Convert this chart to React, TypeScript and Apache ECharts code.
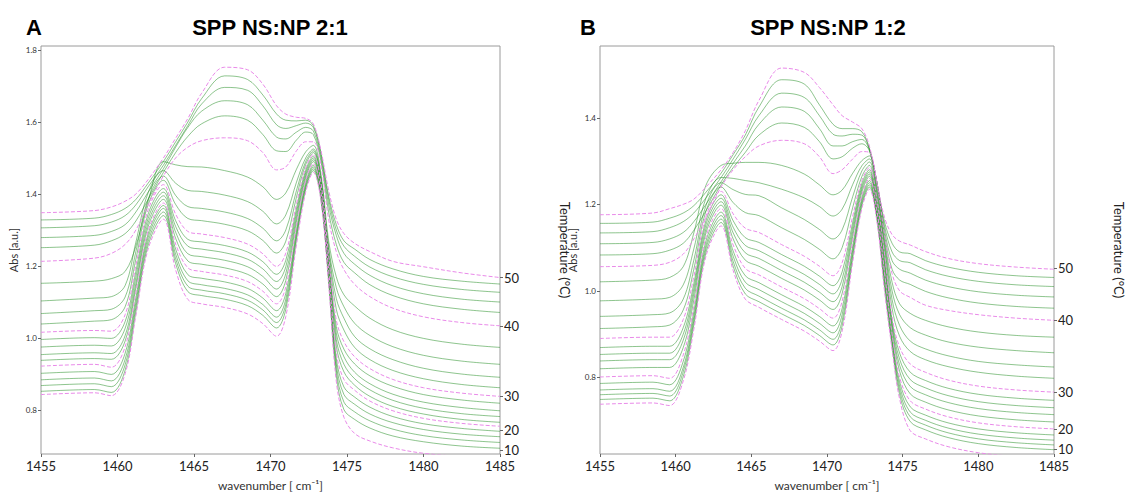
import React, { useEffect, useRef } from "react";
import * as echarts from "echarts";

// Wavenumber sample positions (cm^-1) shared by every spectrum
const WAVENUMBERS = [1455, 1458.5, 1459.6, 1460.5, 1461.2, 1462, 1463, 1463.8, 1464.6, 1465.5, 1467, 1468.5, 1469.5, 1470.4, 1471, 1471.7, 1472.3, 1472.8, 1473.3, 1473.8, 1474.3, 1474.8, 1475.5, 1476.5, 1478, 1480, 1482.5, 1485];

// Temperatures (°C) of the spectra, in order
const TEMPERATURES = [10, 12, 14, 16, 18, 20, 22, 24, 26, 28, 30, 32, 34, 36, 38, 40, 42, 44, 46, 48, 50];

// Panel A: SPP NS:NP 2:1 — absorbance per temperature
const A10 = [0.843, 0.848, 0.840, 0.901, 1.062, 1.247, 1.330, 1.189, 1.107, 1.095, 1.085, 1.067, 1.040, 1.005, 1.060, 1.260, 1.405, 1.460, 1.380, 1.150, 0.880, 0.780, 0.735, 0.714, 0.695, 0.680, 0.671, 0.665];
const A12 = [0.852, 0.857, 0.849, 0.911, 1.072, 1.257, 1.340, 1.207, 1.129, 1.118, 1.108, 1.090, 1.063, 1.028, 1.080, 1.273, 1.413, 1.465, 1.385, 1.158, 0.896, 0.801, 0.774, 0.750, 0.728, 0.712, 0.700, 0.694];
const A14 = [0.868, 0.873, 0.865, 0.926, 1.085, 1.268, 1.350, 1.220, 1.144, 1.133, 1.123, 1.105, 1.078, 1.043, 1.094, 1.282, 1.419, 1.470, 1.390, 1.166, 0.912, 0.822, 0.795, 0.770, 0.747, 0.729, 0.717, 0.710];
const A16 = [0.884, 0.889, 0.881, 0.941, 1.098, 1.279, 1.360, 1.233, 1.159, 1.148, 1.138, 1.120, 1.093, 1.058, 1.108, 1.292, 1.425, 1.475, 1.395, 1.174, 0.928, 0.843, 0.816, 0.789, 0.765, 0.746, 0.733, 0.726];
const A18 = [0.902, 0.907, 0.899, 0.958, 1.112, 1.289, 1.368, 1.247, 1.176, 1.166, 1.156, 1.138, 1.111, 1.076, 1.124, 1.302, 1.432, 1.480, 1.400, 1.181, 0.944, 0.864, 0.836, 0.808, 0.782, 0.762, 0.749, 0.741];
const A20 = [0.922, 0.927, 0.919, 0.976, 1.126, 1.298, 1.375, 1.261, 1.195, 1.185, 1.175, 1.157, 1.130, 1.095, 1.142, 1.313, 1.438, 1.485, 1.405, 1.189, 0.960, 0.885, 0.855, 0.825, 0.798, 0.777, 0.763, 0.755];
const A22 = [0.938, 0.943, 0.941, 0.992, 1.139, 1.309, 1.385, 1.277, 1.214, 1.205, 1.195, 1.177, 1.150, 1.115, 1.160, 1.325, 1.445, 1.490, 1.410, 1.197, 0.978, 0.906, 0.869, 0.838, 0.810, 0.789, 0.774, 0.766];
const A24 = [0.954, 0.959, 0.957, 1.007, 1.152, 1.320, 1.395, 1.294, 1.234, 1.226, 1.216, 1.198, 1.171, 1.136, 1.179, 1.337, 1.452, 1.495, 1.415, 1.205, 0.996, 0.927, 0.887, 0.856, 0.827, 0.805, 0.790, 0.782];
const A26 = [0.975, 0.980, 0.978, 1.027, 1.169, 1.332, 1.405, 1.310, 1.255, 1.247, 1.237, 1.219, 1.192, 1.157, 1.198, 1.349, 1.459, 1.500, 1.420, 1.213, 1.014, 0.948, 0.905, 0.873, 0.844, 0.822, 0.807, 0.798];
const A28 = [0.996, 1.001, 0.999, 1.046, 1.185, 1.344, 1.415, 1.326, 1.274, 1.267, 1.257, 1.239, 1.212, 1.177, 1.216, 1.361, 1.466, 1.505, 1.425, 1.221, 1.032, 0.969, 0.928, 0.895, 0.866, 0.843, 0.828, 0.819];
const A30 = [1.016, 1.021, 1.019, 1.065, 1.201, 1.356, 1.426, 1.344, 1.296, 1.289, 1.279, 1.261, 1.234, 1.199, 1.236, 1.373, 1.473, 1.510, 1.430, 1.229, 1.050, 0.990, 0.948, 0.915, 0.885, 0.862, 0.847, 0.838];
const A32 = [1.039, 1.047, 1.051, 1.087, 1.219, 1.370, 1.438, 1.371, 1.332, 1.326, 1.316, 1.298, 1.271, 1.236, 1.269, 1.392, 1.482, 1.515, 1.435, 1.236, 1.080, 1.022, 0.974, 0.940, 0.910, 0.887, 0.871, 0.862];
const A34 = [1.068, 1.076, 1.080, 1.114, 1.240, 1.385, 1.450, 1.396, 1.365, 1.360, 1.350, 1.332, 1.305, 1.270, 1.300, 1.410, 1.490, 1.520, 1.440, 1.244, 1.110, 1.055, 1.004, 0.970, 0.940, 0.916, 0.900, 0.891];
const A36 = [1.103, 1.111, 1.115, 1.146, 1.266, 1.403, 1.465, 1.430, 1.410, 1.407, 1.397, 1.379, 1.352, 1.317, 1.342, 1.433, 1.500, 1.525, 1.445, 1.252, 1.140, 1.087, 1.041, 1.007, 0.976, 0.952, 0.936, 0.927];
const A38 = [1.152, 1.158, 1.165, 1.185, 1.255, 1.380, 1.490, 1.481, 1.476, 1.475, 1.465, 1.447, 1.420, 1.385, 1.403, 1.469, 1.517, 1.535, 1.455, 1.270, 1.170, 1.120, 1.089, 1.055, 1.023, 0.999, 0.983, 0.974];
const A40 = [1.213, 1.222, 1.235, 1.260, 1.300, 1.370, 1.450, 1.500, 1.530, 1.548, 1.556, 1.548, 1.515, 1.467, 1.475, 1.520, 1.545, 1.545, 1.480, 1.330, 1.240, 1.190, 1.149, 1.115, 1.083, 1.059, 1.043, 1.034];
const A42 = [1.251, 1.258, 1.270, 1.290, 1.325, 1.385, 1.460, 1.515, 1.560, 1.595, 1.617, 1.605, 1.565, 1.520, 1.518, 1.550, 1.572, 1.565, 1.490, 1.350, 1.260, 1.210, 1.181, 1.148, 1.118, 1.095, 1.080, 1.071];
const A44 = [1.279, 1.285, 1.296, 1.315, 1.350, 1.405, 1.470, 1.530, 1.585, 1.630, 1.659, 1.648, 1.605, 1.558, 1.553, 1.572, 1.585, 1.575, 1.500, 1.370, 1.285, 1.235, 1.205, 1.174, 1.145, 1.123, 1.108, 1.100];
const A46 = [1.306, 1.312, 1.322, 1.340, 1.370, 1.420, 1.480, 1.535, 1.590, 1.650, 1.696, 1.688, 1.645, 1.592, 1.582, 1.590, 1.597, 1.585, 1.510, 1.385, 1.300, 1.255, 1.227, 1.197, 1.170, 1.149, 1.135, 1.127];
const A48 = [1.328, 1.333, 1.343, 1.360, 1.385, 1.430, 1.490, 1.545, 1.600, 1.665, 1.728, 1.718, 1.675, 1.622, 1.605, 1.603, 1.605, 1.590, 1.515, 1.395, 1.315, 1.270, 1.247, 1.218, 1.192, 1.171, 1.158, 1.150];
const A50 = [1.348, 1.354, 1.364, 1.380, 1.400, 1.440, 1.500, 1.555, 1.610, 1.680, 1.752, 1.745, 1.705, 1.645, 1.622, 1.613, 1.610, 1.595, 1.520, 1.410, 1.330, 1.290, 1.263, 1.240, 1.213, 1.198, 1.181, 1.168];

// Panel B: SPP NS:NP 1:2 — absorbance per temperature
const B10 = [0.738, 0.741, 0.735, 0.792, 0.911, 1.080, 1.150, 1.047, 0.981, 0.962, 0.934, 0.907, 0.884, 0.862, 0.907, 1.067, 1.190, 1.235, 1.160, 1.000, 0.865, 0.750, 0.677, 0.658, 0.640, 0.626, 0.617, 0.612];
const B12 = [0.749, 0.752, 0.746, 0.802, 0.921, 1.088, 1.158, 1.057, 0.993, 0.975, 0.947, 0.920, 0.897, 0.875, 0.919, 1.076, 1.196, 1.240, 1.165, 1.009, 0.872, 0.760, 0.698, 0.679, 0.661, 0.647, 0.638, 0.633];
const B14 = [0.760, 0.763, 0.757, 0.813, 0.931, 1.097, 1.166, 1.068, 1.006, 0.988, 0.960, 0.933, 0.910, 0.888, 0.931, 1.084, 1.202, 1.245, 1.170, 1.017, 0.879, 0.770, 0.709, 0.690, 0.672, 0.658, 0.649, 0.644];
const B16 = [0.771, 0.774, 0.768, 0.823, 0.940, 1.105, 1.174, 1.080, 1.020, 1.003, 0.975, 0.948, 0.925, 0.903, 0.945, 1.094, 1.208, 1.250, 1.175, 1.026, 0.886, 0.780, 0.720, 0.701, 0.683, 0.669, 0.660, 0.655];
const B18 = [0.786, 0.789, 0.783, 0.837, 0.952, 1.115, 1.182, 1.092, 1.035, 1.019, 0.991, 0.964, 0.941, 0.919, 0.959, 1.104, 1.215, 1.255, 1.180, 1.034, 0.893, 0.790, 0.732, 0.713, 0.695, 0.681, 0.672, 0.667];
const B20 = [0.801, 0.804, 0.798, 0.852, 0.964, 1.124, 1.190, 1.106, 1.052, 1.037, 1.009, 0.982, 0.959, 0.937, 0.976, 1.115, 1.221, 1.260, 1.185, 1.043, 0.900, 0.800, 0.746, 0.727, 0.709, 0.695, 0.686, 0.681];
const B22 = [0.820, 0.823, 0.823, 0.869, 0.979, 1.134, 1.198, 1.120, 1.071, 1.057, 1.029, 1.002, 0.979, 0.957, 0.994, 1.126, 1.228, 1.265, 1.190, 1.051, 0.908, 0.814, 0.762, 0.743, 0.725, 0.711, 0.702, 0.697];
const B24 = [0.838, 0.841, 0.841, 0.886, 0.993, 1.143, 1.206, 1.134, 1.088, 1.075, 1.047, 1.020, 0.997, 0.975, 1.010, 1.137, 1.235, 1.270, 1.195, 1.060, 0.916, 0.828, 0.779, 0.760, 0.742, 0.728, 0.719, 0.714];
const B26 = [0.853, 0.856, 0.856, 0.900, 1.005, 1.153, 1.214, 1.147, 1.105, 1.093, 1.065, 1.038, 1.015, 0.993, 1.027, 1.148, 1.241, 1.275, 1.200, 1.069, 0.924, 0.842, 0.795, 0.776, 0.758, 0.744, 0.735, 0.730];
const B28 = [0.869, 0.872, 0.872, 0.915, 1.017, 1.162, 1.222, 1.162, 1.123, 1.112, 1.084, 1.057, 1.034, 1.012, 1.044, 1.159, 1.248, 1.280, 1.205, 1.077, 0.932, 0.856, 0.812, 0.793, 0.775, 0.761, 0.752, 0.747];
const B30 = [0.890, 0.893, 0.893, 0.934, 1.033, 1.172, 1.230, 1.178, 1.145, 1.135, 1.107, 1.080, 1.057, 1.035, 1.065, 1.173, 1.255, 1.285, 1.210, 1.086, 0.940, 0.870, 0.831, 0.812, 0.794, 0.780, 0.771, 0.766];
const B32 = [0.913, 0.917, 0.921, 0.956, 1.050, 1.184, 1.240, 1.204, 1.181, 1.174, 1.146, 1.119, 1.096, 1.074, 1.100, 1.193, 1.264, 1.290, 1.215, 1.094, 0.960, 0.895, 0.860, 0.841, 0.825, 0.812, 0.803, 0.798];
const B34 = [0.941, 0.945, 0.949, 0.981, 1.071, 1.197, 1.250, 1.234, 1.223, 1.220, 1.192, 1.165, 1.142, 1.120, 1.141, 1.218, 1.277, 1.298, 1.223, 1.103, 0.980, 0.920, 0.884, 0.866, 0.850, 0.837, 0.829, 0.824];
const B36 = [0.977, 0.981, 0.985, 1.014, 1.097, 1.214, 1.262, 1.260, 1.255, 1.250, 1.235, 1.215, 1.195, 1.173, 1.189, 1.246, 1.289, 1.305, 1.230, 1.111, 1.000, 0.945, 0.915, 0.898, 0.882, 0.870, 0.862, 0.857];
const B38 = [1.021, 1.025, 1.031, 1.056, 1.134, 1.244, 1.290, 1.295, 1.297, 1.297, 1.290, 1.270, 1.245, 1.222, 1.233, 1.272, 1.301, 1.312, 1.237, 1.120, 1.020, 0.970, 0.948, 0.932, 0.917, 0.905, 0.897, 0.893];
const B40 = [1.056, 1.059, 1.066, 1.085, 1.120, 1.170, 1.240, 1.280, 1.310, 1.335, 1.348, 1.340, 1.310, 1.271, 1.280, 1.305, 1.322, 1.320, 1.250, 1.130, 1.040, 1.000, 0.985, 0.967, 0.955, 0.945, 0.937, 0.932];
const B42 = [1.083, 1.086, 1.094, 1.110, 1.140, 1.185, 1.245, 1.285, 1.320, 1.360, 1.388, 1.378, 1.345, 1.305, 1.310, 1.330, 1.340, 1.324, 1.250, 1.130, 1.050, 1.025, 1.015, 0.999, 0.984, 0.972, 0.964, 0.960];
const B44 = [1.109, 1.112, 1.120, 1.135, 1.160, 1.200, 1.252, 1.295, 1.335, 1.385, 1.425, 1.415, 1.375, 1.335, 1.335, 1.345, 1.350, 1.326, 1.250, 1.140, 1.070, 1.050, 1.041, 1.025, 1.010, 0.998, 0.990, 0.986];
const B46 = [1.134, 1.137, 1.146, 1.160, 1.180, 1.215, 1.262, 1.305, 1.350, 1.405, 1.457, 1.447, 1.405, 1.362, 1.358, 1.362, 1.360, 1.328, 1.250, 1.150, 1.090, 1.070, 1.065, 1.049, 1.034, 1.022, 1.014, 1.010];
const B48 = [1.156, 1.159, 1.168, 1.180, 1.197, 1.228, 1.272, 1.315, 1.360, 1.425, 1.488, 1.478, 1.430, 1.385, 1.375, 1.375, 1.368, 1.330, 1.250, 1.160, 1.110, 1.090, 1.086, 1.070, 1.055, 1.043, 1.035, 1.031];
const B50 = [1.176, 1.180, 1.190, 1.200, 1.212, 1.240, 1.280, 1.320, 1.370, 1.440, 1.515, 1.505, 1.470, 1.430, 1.405, 1.390, 1.375, 1.335, 1.250, 1.170, 1.130, 1.115, 1.106, 1.091, 1.075, 1.063, 1.055, 1.050];

const PANEL_A = [A10, A12, A14, A16, A18, A20, A22, A24, A26, A28, A30, A32, A34, A36, A38, A40, A42, A44, A46, A48, A50];
const PANEL_B = [B10, B12, B14, B16, B18, B20, B22, B24, B26, B28, B30, B32, B34, B36, B38, B40, B42, B44, B46, B48, B50];

// Left axis ticks (absorbance)
const ABS_TICKS_A = [0.8, 1.0, 1.2, 1.4, 1.6, 1.8];
const ABS_TICKS_B = [0.8, 1.0, 1.2, 1.4];
// Right axis: temperature labels and where they sit on the absorbance scale
const TEMP_LABELS = ["50", "40", "30", "20", "10"];
const TEMP_POS_A = [1.168, 1.033, 0.838, 0.744, 0.688];
const TEMP_POS_B = [1.052, 0.932, 0.766, 0.680, 0.634];

const GREEN = "rgba(30,140,30,0.5)";
const VIOLET = "#e98ae9";
const AXIS_FONT = "Lato";

function makeSeries(rows: number[][], axisIndex: number, yIndex: number) {
  return rows.map((row, k) => {
    const t = TEMPERATURES[k];
    const major = t % 10 === 0;
    return {
      type: "line",
      name: `${t}`,
      xAxisIndex: axisIndex,
      yAxisIndex: yIndex,
      data: WAVENUMBERS.map((w, i) => [w, row[i]]),
      showSymbol: false,
      symbol: "none",
      smooth: 0.35,
      silent: true,
      z: major ? 3 : 2,
      lineStyle: major
        ? { color: VIOLET, width: 1, type: [4, 2] }
        : { color: GREEN, width: 1 },
    };
  });
}

function leftAxis(grid: number, min: number, max: number, ticks: number[]) {
  return {
    type: "value",
    gridIndex: grid,
    position: "left",
    min,
    max,
    name: "Abs [a.u.]",
    nameLocation: "middle",
    nameGap: 22,
    nameTextStyle: { fontSize: 11, color: "#333", fontFamily: AXIS_FONT },
    axisLine: { show: false },
    splitLine: { show: false },
    axisTick: { show: true, length: 3, customValues: ticks, lineStyle: { color: "#666" } },
    axisLabel: {
      customValues: ticks,
      formatter: (v: number) => v.toFixed(1),
      fontSize: 8,
      color: "#333",
      margin: 4,
      fontFamily: AXIS_FONT,
    },
  };
}

function rightAxis(grid: number, min: number, max: number, pos: number[]) {
  return {
    type: "value",
    gridIndex: grid,
    position: "right",
    min,
    max,
    name: "Temperature (°C)",
    nameLocation: "middle",
    nameRotate: -90,
    nameGap: 58,
    nameTextStyle: { fontSize: 13, color: "#222", fontFamily: AXIS_FONT },
    axisLine: { show: false },
    splitLine: { show: false },
    axisTick: { show: true, length: 3, customValues: pos, lineStyle: { color: "#666" } },
    axisLabel: {
      customValues: pos,
      formatter: (v: number) => {
        const i = pos.findIndex((p) => Math.abs(p - v) < 1e-6);
        return i >= 0 ? TEMP_LABELS[i] : "";
      },
      fontSize: 13,
      color: "#222",
      margin: 4,
      fontFamily: AXIS_FONT,
    },
  };
}

function xAxis(grid: number) {
  return {
    type: "value",
    gridIndex: grid,
    min: 1455,
    max: 1485,
    interval: 5,
    name: "wavenumber [ cm⁻¹]",
    nameLocation: "middle",
    nameGap: 25,
    nameTextStyle: { fontSize: 12, color: "#333", fontFamily: AXIS_FONT },
    axisLine: { show: false },
    splitLine: { show: false },
    axisTick: { show: true, length: 3, lineStyle: { color: "#666" } },
    axisLabel: {
      fontSize: 13,
      color: "#222",
      margin: 5,
      fontFamily: AXIS_FONT,
      formatter: (v: number) => String(v),
    },
  };
}

export default function App() {
  const ref = useRef<HTMLDivElement>(null);
  useEffect(() => {
    if (!ref.current) return;
    const chart = echarts.init(ref.current, undefined, { renderer: "svg" });
    const titleStyle = {
      fontFamily: "Liberation Sans",
      fontWeight: "bold",
      fontSize: 22,
      fill: "#000",
      align: "center",
      verticalAlign: "middle",
    };
    chart.setOption({
      animation: false,
      backgroundColor: "#fff",
      grid: [
        { left: 41, top: 46, width: 459, height: 418, show: true, borderColor: "#9a9a9a", borderWidth: 1 },
        { left: 600, top: 46, width: 454, height: 418, show: true, borderColor: "#9a9a9a", borderWidth: 1 },
      ],
      xAxis: [xAxis(0), xAxis(1)],
      yAxis: [
        leftAxis(0, 0.678, 1.811, ABS_TICKS_A),
        rightAxis(0, 0.678, 1.811, TEMP_POS_A),
        leftAxis(1, 0.623, 1.566, ABS_TICKS_B),
        rightAxis(1, 0.623, 1.566, TEMP_POS_B),
      ],
      graphic: [
        { type: "text", x: 34, y: 27, style: { ...titleStyle, text: "A" } },
        { type: "text", x: 270, y: 27, style: { ...titleStyle, text: "SPP NS:NP 2:1" } },
        { type: "text", x: 588, y: 27, style: { ...titleStyle, text: "B" } },
        { type: "text", x: 828, y: 27, style: { ...titleStyle, text: "SPP NS:NP 1:2" } },
      ],
      series: [...makeSeries(PANEL_A, 0, 0), ...makeSeries(PANEL_B, 1, 2)],
    });
    return () => chart.dispose();
  }, []);
  return (
    <div
      ref={ref}
      style={{ position: "absolute", left: 0, top: 0, width: 1126, height: 496 }}
    />
  );
}
